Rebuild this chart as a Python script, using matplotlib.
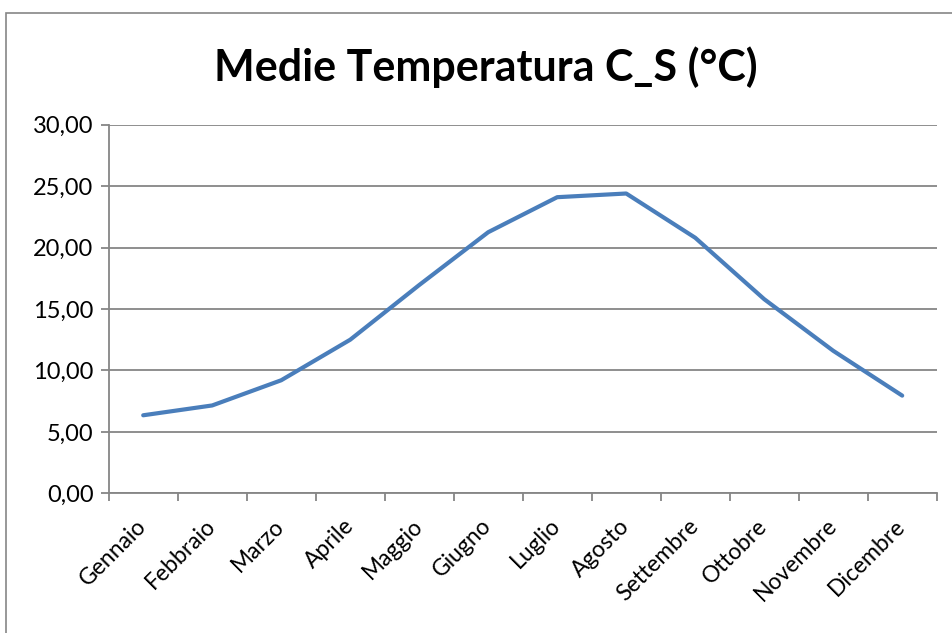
import matplotlib.pyplot as plt
import numpy as np
from matplotlib.patches import Rectangle

mesi = ["Gennaio", "Febbraio", "Marzo", "Aprile", "Maggio", "Giugno",
        "Luglio", "Agosto", "Settembre", "Ottobre", "Novembre", "Dicembre"]
temp_media = [6.35, 7.15, 9.2, 12.5, 16.95, 21.25, 24.1, 24.4, 20.8, 15.8, 11.6, 7.95]
y_ticks = [0, 5, 10, 15, 20, 25, 30]

grid_color = "#868686"
line_color = "#4A7EBB"

plt.rcParams['font.family'] = ['Lato', 'DejaVu Sans']

fig = plt.figure(figsize=(9.53, 6.33), dpi=100)
fig.set_facecolor("white")

# chart area border (Excel style), right/bottom cut off
fig.patches.append(Rectangle((6 / 953, -0.1), 1.2, 0.1 + 620 / 633,
                             transform=fig.transFigure, fill=False,
                             edgecolor=grid_color, linewidth=1.2))

ax = fig.add_axes([108.7 / 953, 139.7 / 633, 828 / 953, 368.6 / 633])
x = np.arange(len(mesi))
ax.plot(x, temp_media, color=line_color, linewidth=3.0, solid_capstyle='round',
        solid_joinstyle='round', zorder=3)

ax.set_xlim(-0.5, len(mesi) - 0.5)
ax.set_ylim(0, 30)
ax.set_yticks(y_ticks)
ax.set_yticklabels([f"{v:.2f}".replace(".", ",") for v in y_ticks], fontsize=17)
ax.grid(axis='y', color=grid_color, linewidth=1.3, zorder=0)

# boundaries as major ticks, labels on minor ticks at category centres
ax.set_xticks(np.arange(-0.5, len(mesi)))
ax.set_xticklabels([])
ax.set_xticks(x, minor=True)
ax.set_xticklabels(mesi, minor=True, fontsize=16.5, rotation=45, ha='right',
                   va='center', rotation_mode='anchor')
ax.tick_params(axis='x', which='minor', length=0, pad=21)
ax.tick_params(axis='x', which='major', length=6, color=grid_color, width=1.3)
ax.tick_params(axis='y', length=6, color=grid_color, width=1.3, pad=5)

for s in ['top', 'right']:
    ax.spines[s].set_visible(False)
for s in ['left', 'bottom']:
    ax.spines[s].set_color(grid_color)
    ax.spines[s].set_linewidth(1.3)

fig.text(0.51, 1 - 67 / 633, "Medie Temperatura C_S (°C)", fontsize=31,
         fontweight='bold', ha='center', va='center')

fig.savefig("out.png", dpi=100)
